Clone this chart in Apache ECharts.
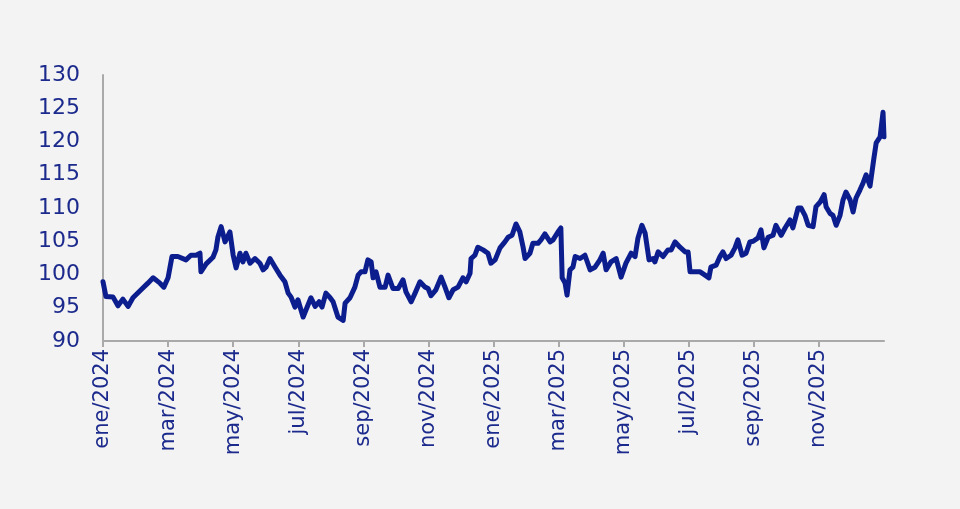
<!DOCTYPE html>
<html>
<head>
<meta charset="utf-8">
<script src="https://cdn.jsdelivr.net/npm/echarts@6/dist/echarts.min.js"></script>
<style>
html,body{margin:0;padding:0;background:#f3f3f3;}
#c{width:960px;height:509px;}
</style>
</head>
<body>
<div id="c"></div>
<script>
// Tick labels (every two months starting at ene/2024)
var tickLabels = ['ene/2024','mar/2024','may/2024','jul/2024','sep/2024','nov/2024',
                  'ene/2025','mar/2025','may/2025','jul/2025','sep/2025','nov/2025'];
// x: months elapsed since 1 Jan 2024
var months = [0.00,0.09,0.31,0.46,0.61,0.77,0.92,1.17,1.38,1.54,1.75,1.87,2.00,2.12,2.30,2.55,2.70,2.86,2.98,3.01,
  3.17,3.38,3.47,3.53,3.63,3.75,3.90,4.00,4.09,4.21,4.30,4.39,4.52,4.67,4.82,4.92,5.01,5.13,5.29,5.44,
  5.59,5.69,5.78,5.90,5.99,6.15,6.24,6.39,6.52,6.64,6.73,6.85,6.98,7.07,7.22,7.38,7.44,7.59,7.74,7.84,
  7.93,8.05,8.14,8.24,8.30,8.39,8.51,8.67,8.76,8.82,8.91,9.07,9.22,9.31,9.47,9.59,9.74,9.90,9.99,10.08,
  10.23,10.39,10.51,10.63,10.76,10.91,11.06,11.16,11.28,11.31,11.43,11.52,11.68,11.83,11.92,12.05,12.20,12.35,12.45,12.57,
  12.69,12.81,12.91,12.97,13.12,13.21,13.37,13.46,13.58,13.74,13.83,13.98,14.07,14.11,14.20,14.26,14.35,14.44,14.51,14.66,
  14.81,14.97,15.12,15.27,15.37,15.46,15.61,15.77,15.92,16.07,16.23,16.35,16.44,16.56,16.66,16.78,16.90,16.96,17.06,17.21,
  17.36,17.46,17.58,17.73,17.89,17.98,18.04,18.19,18.35,18.50,18.62,18.68,18.84,18.96,19.05,19.15,19.30,19.42,19.51,19.64,
  19.76,19.88,19.98,20.13,20.22,20.31,20.44,20.59,20.68,20.84,20.96,21.11,21.20,21.36,21.45,21.57,21.67,21.82,21.91,22.04,
  22.16,22.22,22.34,22.43,22.53,22.65,22.74,22.83,22.96,23.05,23.14,23.26,23.36,23.45,23.57,23.63,23.69,23.76,23.88,23.97,24.00];
var values = [98.9,96.7,96.6,95.3,96.3,95.2,96.5,97.7,98.7,99.5,98.7,98.1,99.5,102.7,102.7,102.2,102.9,102.9,103.2,100.4,
  101.6,102.6,103.7,105.6,107.2,104.9,106.4,102.9,101.0,103.2,101.9,103.2,101.7,102.4,101.7,100.7,101.1,102.4,101.1,99.9,
  98.9,97.2,96.6,95.1,96.2,93.6,94.7,96.5,95.2,95.9,95.1,97.2,96.5,95.9,93.6,93.1,95.7,96.5,98.1,99.9,
  100.4,100.4,102.2,101.9,99.5,100.4,98.1,98.1,99.9,100.2,97.9,97.9,99.2,97.4,95.9,97.2,98.9,98.1,97.9,96.8,
  97.7,99.6,98.1,96.5,97.7,98.1,99.5,98.9,100.2,102.4,102.9,104.1,103.7,103.2,101.7,102.2,104.0,104.9,105.6,105.9,
  107.6,106.4,104.1,102.4,103.2,104.7,104.7,105.2,106.1,104.9,105.2,106.4,107.0,99.5,98.7,96.9,100.7,101.1,102.7,102.4,
  102.9,100.7,101.1,102.2,103.2,100.7,101.9,102.4,99.6,101.7,103.2,102.7,105.5,107.4,106.2,102.2,102.4,101.9,103.4,102.7,
  103.7,103.7,104.9,104.1,103.4,103.4,100.4,100.4,100.4,99.9,99.5,101.1,101.4,102.7,103.4,102.4,102.9,104.0,105.2,102.9,
  103.2,104.9,105.0,105.5,106.7,104.0,105.6,105.9,107.4,105.9,107.0,108.2,107.0,110.0,110.0,108.9,107.4,107.2,110.2,110.9,
  112.0,110.2,109.2,108.9,107.4,108.9,111.2,112.4,111.2,109.4,111.5,112.7,113.8,115.0,113.3,113.5,117.5,119.8,120.7,124.4,120.7];
var yMin = 90, yMax = 130, yStep = 5;

var seriesData = months.map(function(m, i){ return [m, values[i]]; });
var textColor = '#1b2a8c';
var axisGray = '#a9a9a9';

var chart = echarts.init(document.getElementById('c'), null, {renderer:'canvas'});
chart.setOption({
  backgroundColor: '#f3f3f3',
  animation: false,
  grid: {left: 103, right: 76, top: 75, bottom: 168, containLabel: false},
  xAxis: {
    type: 'value', min: 0, max: 24, interval: 2,
    splitLine: {show: false},
    axisLine: {show: true, lineStyle: {color: axisGray, width: 2}},
    axisTick: {show: true, length: 6, lineStyle: {color: axisGray, width: 2}},
    axisLabel: {
      rotate: 90, margin: 8, color: textColor, fontSize: 21,
      fontFamily: 'DejaVu Sans',
      showMaxLabel: false,
      formatter: function(v){ var i = Math.round(v/2); return tickLabels[i] || ''; }
    }
  },
  yAxis: {
    type: 'value', min: yMin, max: yMax, interval: yStep,
    splitLine: {show: false},
    axisLine: {show: true, lineStyle: {color: axisGray, width: 2}},
    axisTick: {show: false},
    axisLabel: {margin: 23, color: textColor, fontSize: 22, fontFamily: 'DejaVu Sans'}
  },
  series: [{
    type: 'line',
    data: seriesData,
    showSymbol: false,
    symbol: 'none',
    lineStyle: {color: '#0c1d8e', width: 5, join: 'round', cap: 'round'}
  }]
});
</script>
</body>
</html>
